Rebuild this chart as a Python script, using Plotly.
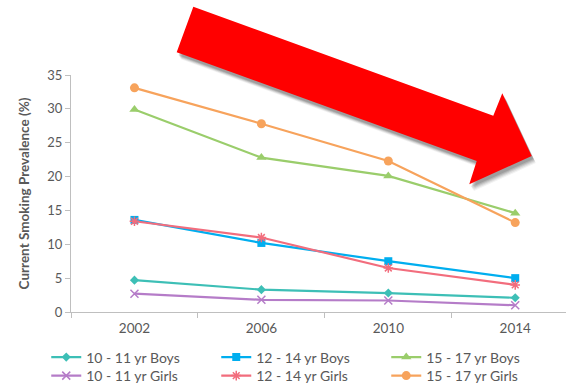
import plotly.graph_objects as go

# Survey years (categorical x-axis)
years = ["2002", "2006", "2010", "2014"]

# Current smoking prevalence (%) by age group and sex
boys_10_11 = [4.7, 3.3, 2.8, 2.1]
boys_12_14 = [13.6, 10.2, 7.5, 5.0]
boys_15_17 = [29.9, 22.8, 20.1, 14.6]
girls_10_11 = [2.7, 1.8, 1.7, 1.0]
girls_12_14 = [13.4, 11.0, 6.5, 4.0]
girls_15_17 = [33.1, 27.8, 22.3, 13.2]

W, H = 566, 386
ML, MR, MT, MB = 71, 0, 75, 74
PW, PH = W - ML - MR, H - MT - MB

FONT = "Lato, 'Open Sans', sans-serif"
GREY = "#595959"
AXIS = "#BFBFBF"

# boys go in the first legend row, girls in the second
series = [
    ("10 - 11 yr Boys", boys_10_11, "#3DBFB6", dict(symbol="diamond", size=7), "legend"),
    ("12 - 14 yr Boys", boys_12_14, "#00AEEF", dict(symbol="square", size=8), "legend"),
    ("15 - 17 yr Boys", boys_15_17, "#9ACD6B", dict(symbol="triangle-up", size=9), "legend"),
    ("10 - 11 yr Girls", girls_10_11, "#B57CC8", dict(symbol="x-thin-open", size=8, line=dict(width=1.5)), "legend2"),
    ("12 - 14 yr Girls", girls_12_14, "#F26D7D", dict(symbol="asterisk-open", size=8, line=dict(width=1.5)), "legend2"),
    ("15 - 17 yr Girls", girls_15_17, "#F7A35C", dict(symbol="circle", size=9), "legend2"),
]

fig = go.Figure()
for name, vals, color, marker, leg in series:
    m = dict(color=color, **marker)
    if "line" in m:
        m["line"] = dict(color=color, **m["line"])
    fig.add_trace(go.Scatter(
        x=years, y=vals, name=name, mode="lines+markers",
        line=dict(color=color, width=2.2), marker=m, legend=leg,
    ))


def to_paper(pts, dx=0.0, dy=0.0):
    """Convert pixel positions on the page into paper coordinates."""
    return [((x + dx - ML) / PW, (MT + PH - (y + dy)) / PH) for x, y in pts]


def path_of(pts):
    return "M " + " L ".join(f"{x:.4f},{y:.4f}" for x, y in pts) + " Z"


# Big downward-trend arrow drawn over the chart
arrow_px = [(193.3, 6.7), (493.3, 115.7), (502.3, 93.3), (531.7, 156.0),
            (469.3, 184.3), (476.7, 161.0), (176.7, 52.3)]

shapes = []
# soft drop shadow built from stacked translucent copies
for off, op in [(7, 0.05), (6, 0.07), (5, 0.09), (4, 0.11), (3, 0.12)]:
    shapes.append(dict(type="path", xref="paper", yref="paper",
                       path=path_of(to_paper(arrow_px, off * 0.6, off)),
                       fillcolor=f"rgba(0,0,0,{op})", line=dict(width=0), layer="above"))
shapes.append(dict(type="path", xref="paper", yref="paper",
                   path=path_of(to_paper(arrow_px)),
                   fillcolor="#FF0000", line=dict(width=0), layer="above"))


def legend_row(y_px):
    return dict(
        orientation="h", x=-0.05, y=(MT + PH - y_px) / PH,
        xanchor="left", yanchor="middle",
        entrywidth=125, entrywidthmode="pixels",
        font=dict(family=FONT, size=14, color=GREY),
        traceorder="normal", itemwidth=30,
        bgcolor="rgba(0,0,0,0)",
    )


fig.update_layout(
    width=W, height=H,
    margin=dict(l=ML, r=MR, t=MT, b=MB, autoexpand=False),
    paper_bgcolor="white", plot_bgcolor="white",
    font=dict(family=FONT, color=GREY, size=13),
    shapes=shapes,
    showlegend=True,
    legend=legend_row(357.5),
    legend2=legend_row(376.0),
    xaxis=dict(
        type="category", range=[-0.5, 3.4],
        showline=True, linecolor=AXIS, linewidth=1,
        ticks="outside", tickson="boundaries", ticklen=5, tickcolor=AXIS,
        showgrid=False, zeroline=False, ticklabelstandoff=4,
        tickfont=dict(family=FONT, size=13.5, color=GREY),
    ),
    yaxis=dict(
        range=[0, 35], dtick=5,
        showline=True, linecolor=AXIS, linewidth=1,
        ticks="outside", ticklen=5, tickcolor=AXIS,
        showgrid=False, zeroline=False,
        tickfont=dict(family=FONT, size=13, color=GREY),
        title=dict(text="<b>Current Smoking Prevalence (%)</b>",
                   font=dict(family=FONT, size=13.5, color=GREY), standoff=14),
    ),
)

fig.write_html("out.html")
